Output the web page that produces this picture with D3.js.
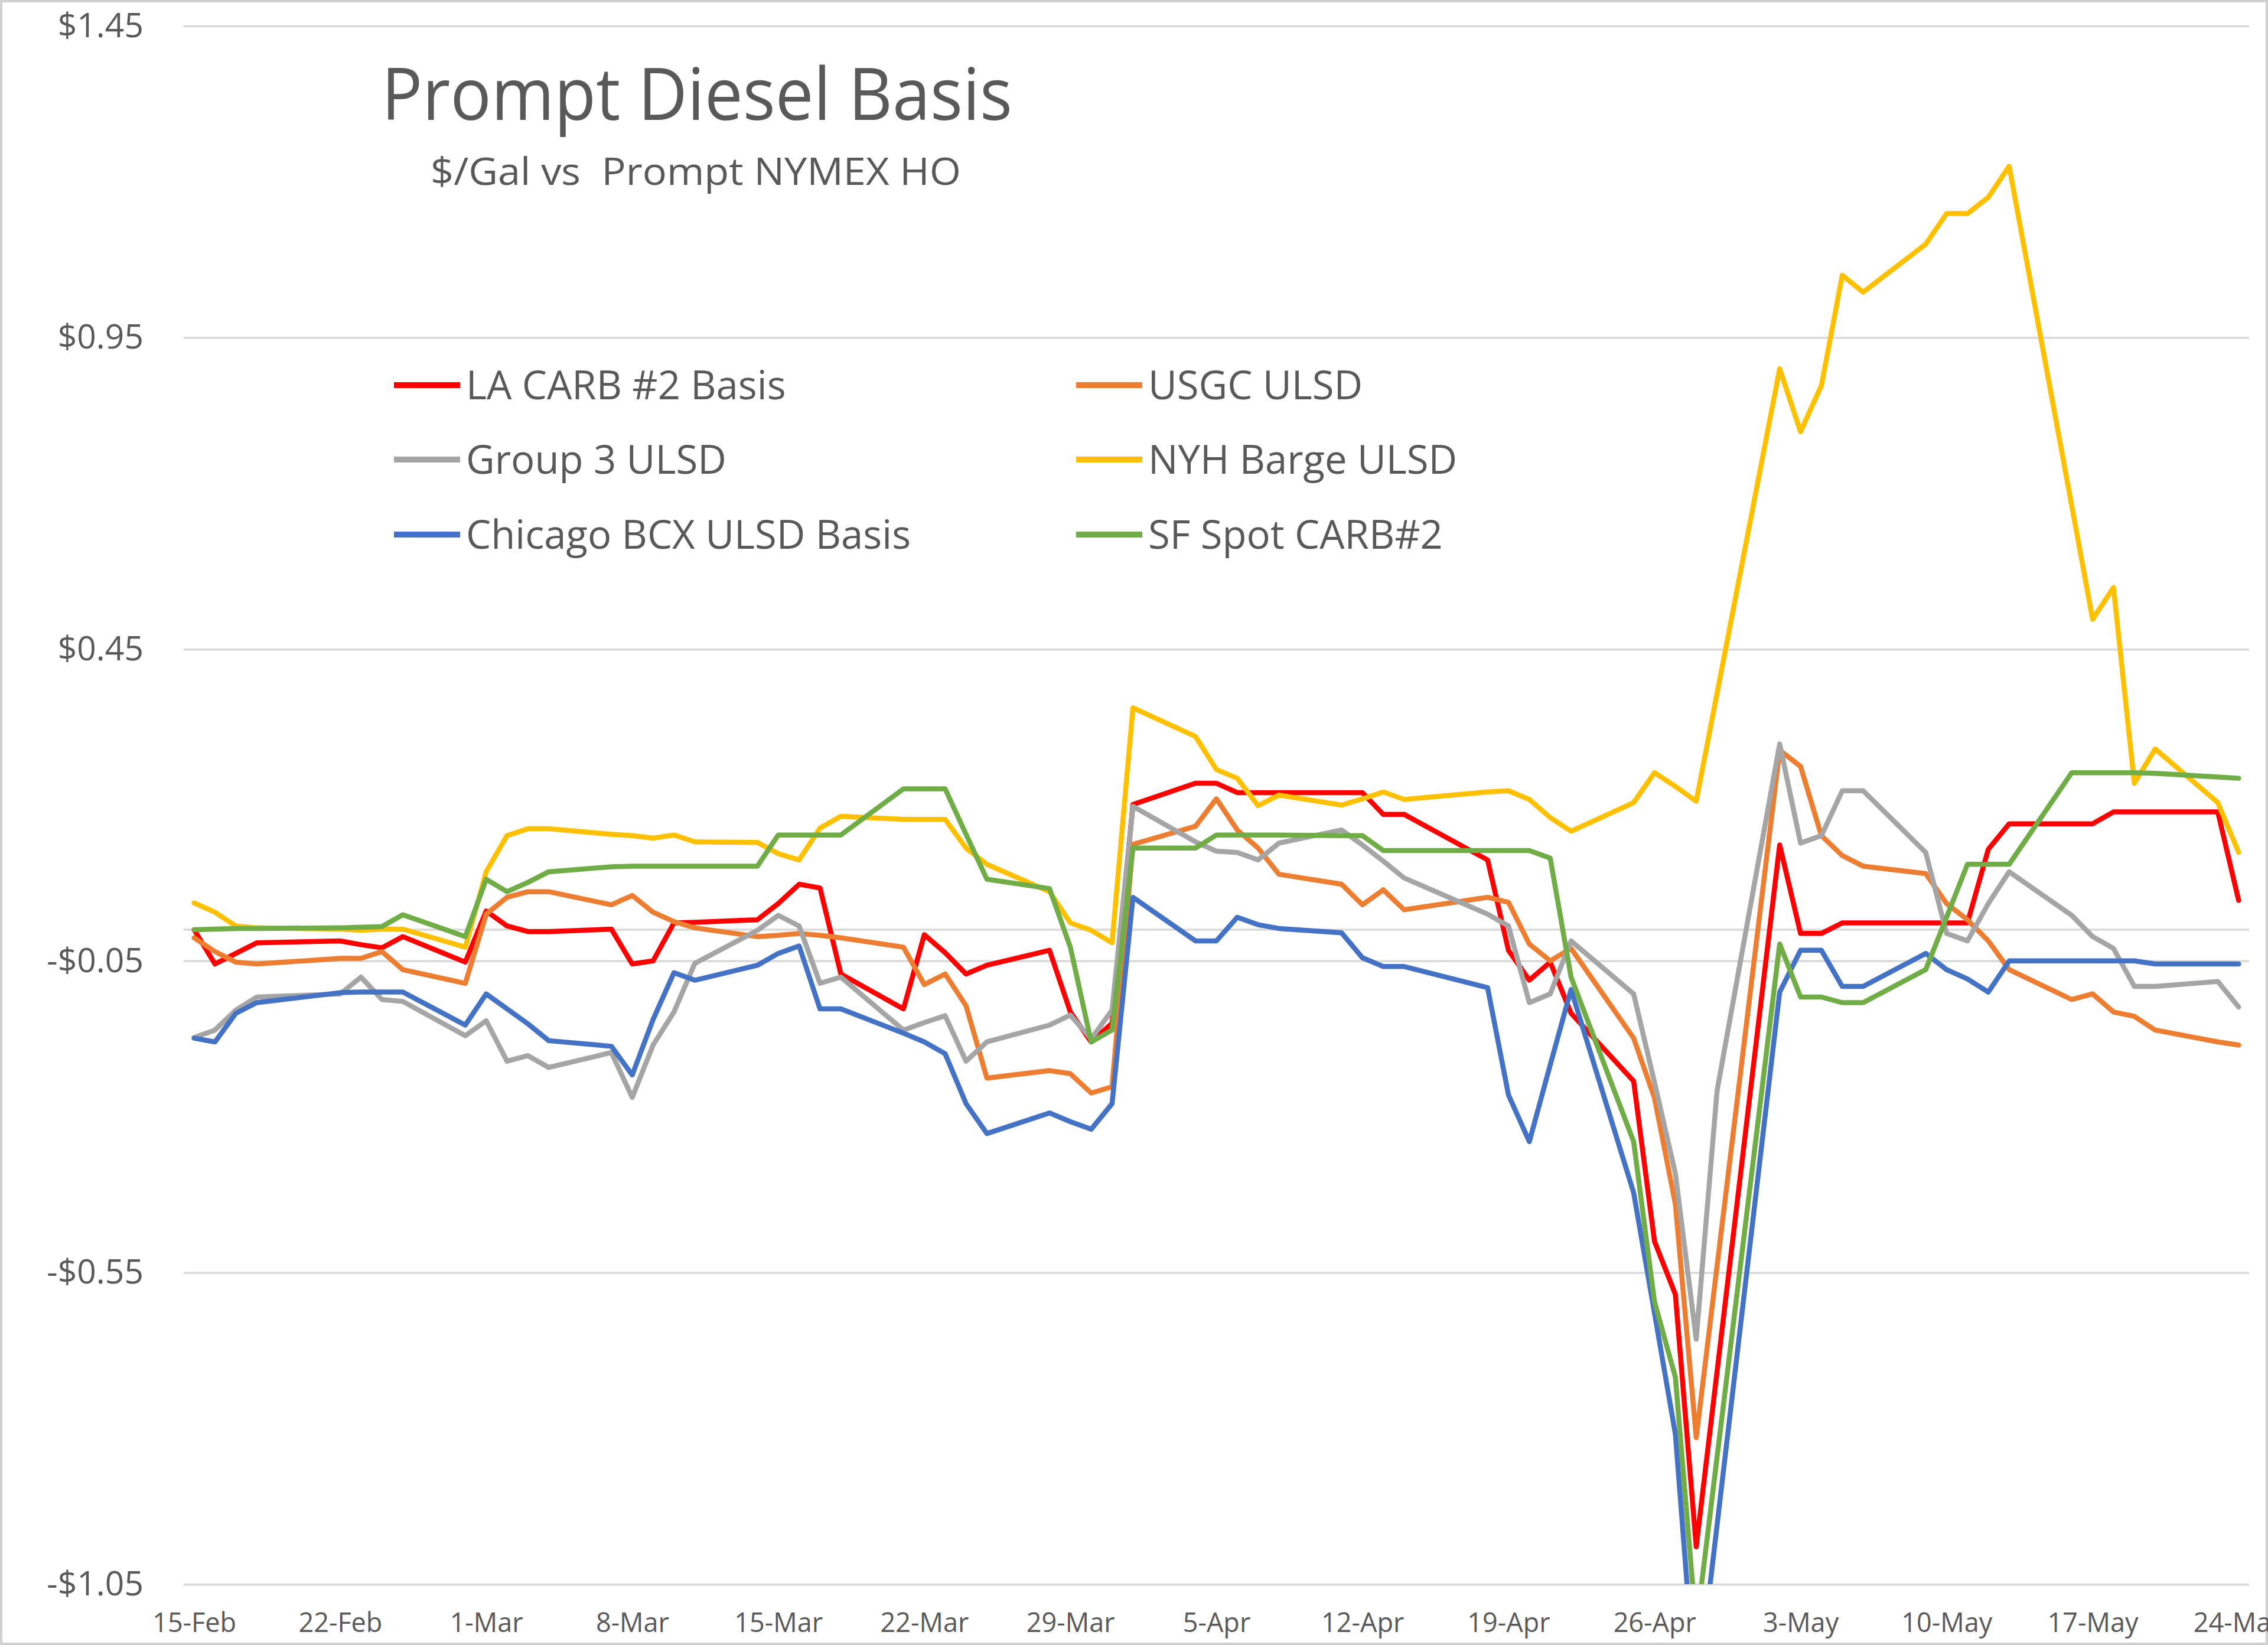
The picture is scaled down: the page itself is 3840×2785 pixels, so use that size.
<!DOCTYPE html>
<html>
<head>
<meta charset="utf-8">
<script src="https://cdn.jsdelivr.net/npm/d3@7"></script>
<style>
  html, body { margin: 0; padding: 0; background: #ffffff; }
  svg { display: block; }
</style>
</head>
<body>
<svg id="chart" width="3840" height="2785"></svg>
<script>
// ---------------- DATA ----------------
const dates = [
  "2022-02-15","2022-02-16","2022-02-17","2022-02-18","2022-02-21","2022-02-22","2022-02-23","2022-02-24","2022-02-25","2022-02-28",
  "2022-03-01","2022-03-02","2022-03-03","2022-03-04","2022-03-07","2022-03-08","2022-03-09","2022-03-10","2022-03-11","2022-03-14",
  "2022-03-15","2022-03-16","2022-03-17","2022-03-18","2022-03-21","2022-03-22","2022-03-23","2022-03-24","2022-03-25","2022-03-28",
  "2022-03-29","2022-03-30","2022-03-31",
  "2022-04-01","2022-04-04","2022-04-05","2022-04-06","2022-04-07","2022-04-08","2022-04-11","2022-04-12","2022-04-13","2022-04-14",
  "2022-04-15","2022-04-18","2022-04-19","2022-04-20","2022-04-21","2022-04-22","2022-04-25","2022-04-26","2022-04-27","2022-04-28",
  "2022-04-29",
  "2022-05-02","2022-05-03","2022-05-04","2022-05-05","2022-05-06","2022-05-09","2022-05-10","2022-05-11","2022-05-12","2022-05-13",
  "2022-05-16","2022-05-17","2022-05-18","2022-05-19","2022-05-20","2022-05-23","2022-05-24"
];

const laCarb = [
  0.000,-0.055,-0.038,-0.021,null,-0.018,-0.024,-0.029,-0.011,-0.052,
  0.030,0.006,-0.003,-0.003,0.001,-0.055,-0.050,0.011,0.012,0.016,0.042,0.073,0.067,-0.071,-0.127,-0.008,-0.037,-0.071,-0.057,-0.033,-0.132,-0.180,-0.150,
  0.201,0.235,0.235,0.220,0.220,0.220,0.220,0.220,0.185,0.185,null,0.112,-0.033,-0.081,-0.052,-0.134,-0.243,-0.500,-0.585,-0.990,null,
  0.136,-0.006,-0.006,0.011,0.011,0.011,0.011,0.011,0.129,0.170,0.170,0.170,0.189,0.189,0.189,0.189,0.047
];
const usgc = [
  -0.013,-0.035,-0.052,-0.055,null,-0.046,-0.046,-0.035,-0.064,-0.086,
  0.025,0.052,0.061,0.061,0.040,0.055,0.028,0.013,0.003,-0.011,-0.009,-0.006,-0.009,-0.013,-0.028,-0.088,-0.071,-0.122,-0.238,-0.226,-0.231,-0.262,-0.252,
  0.137,0.166,0.210,0.160,0.131,0.089,0.073,0.040,0.064,0.032,null,0.052,0.044,-0.023,-0.050,-0.030,-0.174,-0.270,-0.440,-0.815,null,
  0.288,0.262,0.151,0.119,0.102,0.090,0.042,0.016,-0.018,-0.064,-0.112,-0.103,-0.132,-0.139,-0.161,-0.180,-0.185
];
const group3 = [
  -0.173,-0.161,-0.129,-0.108,null,-0.103,-0.076,-0.112,-0.115,-0.170,
  -0.146,-0.211,-0.202,-0.221,-0.197,-0.269,-0.185,-0.132,-0.054,-0.001,0.023,0.006,-0.086,-0.076,-0.161,-0.149,-0.138,-0.211,-0.180,-0.153,-0.137,-0.175,-0.129,
  0.198,0.141,0.126,0.124,0.112,0.139,0.160,0.136,0.110,0.083,null,0.025,0.006,-0.117,-0.103,-0.018,-0.103,-0.245,-0.391,-0.657,-0.258,
  0.298,0.139,0.151,0.223,0.223,0.124,-0.006,-0.018,0.042,0.093,0.023,-0.011,-0.030,-0.091,-0.091,-0.083,-0.124
];
const nyhBarge = [
  0.043,0.028,0.006,0.003,null,0.001,-0.001,0.001,0.001,-0.028,
  0.093,0.151,0.162,0.162,0.153,0.151,0.147,0.152,0.141,0.140,0.122,0.112,0.163,0.182,0.177,0.177,0.177,0.131,0.105,0.061,0.011,-0.001,-0.021,
  0.356,0.310,0.257,0.243,0.199,0.216,0.200,0.210,0.221,0.209,null,0.221,0.223,0.209,0.180,0.158,0.204,0.252,0.230,0.206,null,
  0.900,0.799,0.873,1.050,1.023,1.100,1.149,1.149,1.175,1.225,0.680,0.498,0.549,0.235,0.290,0.204,0.124
];
const chicago = [
  -0.174,-0.180,-0.134,-0.117,null,-0.101,-0.100,-0.100,-0.100,-0.153,
  -0.103,-0.127,-0.151,-0.178,-0.187,-0.233,-0.144,-0.069,-0.081,-0.057,-0.038,-0.026,-0.127,-0.127,-0.166,-0.180,-0.199,-0.279,-0.327,-0.294,-0.308,-0.320,-0.279,
  0.052,-0.018,-0.018,0.020,0.008,0.002,-0.005,-0.045,-0.059,-0.059,null,-0.093,-0.265,-0.340,-0.217,-0.096,-0.422,-0.615,-0.809,-1.240,null,
  -0.100,-0.033,-0.033,-0.091,-0.091,-0.038,-0.064,-0.079,-0.100,-0.050,-0.050,-0.050,-0.050,-0.050,-0.055,-0.055,-0.055
];
const sfSpot = [
  0.000,0.001,0.002,0.002,null,0.003,0.004,0.005,0.024,-0.011,
  0.081,0.061,0.076,0.093,0.101,0.102,0.102,0.102,0.102,0.102,0.152,0.152,0.152,0.152,0.226,0.226,0.226,0.153,0.081,0.066,-0.028,-0.180,-0.161,
  0.131,0.131,0.152,0.152,0.152,0.152,0.151,0.151,0.127,0.127,null,0.127,0.127,0.127,0.115,-0.076,-0.340,-0.597,-0.718,-1.120,null,
  -0.023,-0.108,-0.108,-0.117,-0.117,-0.064,0.020,0.105,0.105,0.105,0.252,0.252,0.252,0.252,0.251,0.245,0.243
];

const seriesNames = ["LA CARB #2 Basis","USGC ULSD","Group 3 ULSD","NYH Barge ULSD","Chicago BCX ULSD Basis","SF Spot CARB#2"];
const seriesValues = [laCarb, usgc, group3, nyhBarge, chicago, sfSpot];
const seriesColors = ["#FF0000","#ED7D31","#A5A5A5","#FFC000","#4472C4","#70AD47"];

const yTickValues = [1.45, 0.95, 0.45, -0.05, -0.55, -1.05];
const xTickDates = ["2022-02-15","2022-02-22","2022-03-01","2022-03-08","2022-03-15","2022-03-22","2022-03-29",
                    "2022-04-05","2022-04-12","2022-04-19","2022-04-26","2022-05-03","2022-05-10","2022-05-17","2022-05-24"];

const titleText = "Prompt Diesel Basis";
const subtitleText = "$/Gal vs  Prompt NYMEX HO";

// ---------------- LAYOUT ----------------
const W = 3840, H = 2785;
const plot = { left: 311, right: 3808, top: 44, bottom: 2682 };
const textColor = "#595959";
const gridColor = "#D9D9D9";
const fontFamily = "'Open Sans', 'Noto Sans', sans-serif";

const parse = d3.timeParse("%Y-%m-%d");
const svg = d3.select("#chart");

svg.append("rect").attr("x", 0).attr("y", 0).attr("width", W).attr("height", H).attr("fill", "#ffffff");
svg.append("rect").attr("x", 2).attr("y", 2).attr("width", W - 4).attr("height", H - 4)
  .attr("fill", "none").attr("stroke", "#D0D0D0").attr("stroke-width", 4);

const xStart = d3.timeHour.offset(parse(dates[0]), -12);
const xEnd = d3.timeHour.offset(parse(dates[dates.length - 1]), 12);
const x = d3.scaleTime().domain([xStart, xEnd]).range([plot.left, plot.right]);
const y = d3.scaleLinear().domain([-1.05, 1.45]).range([plot.bottom, plot.top]);

const fmtMoney = v => (v < 0 ? "-" : "") + "$" + Math.abs(v).toFixed(2);

// Y axis with gridlines
const yAxis = d3.axisLeft(y)
  .tickValues(yTickValues)
  .tickSize(-(plot.right - plot.left))
  .tickPadding(68)
  .tickFormat(fmtMoney);
const gy = svg.append("g").attr("transform", `translate(${plot.left},0)`).call(yAxis);
gy.select(".domain").remove();
gy.selectAll(".tick line").attr("stroke", gridColor).attr("stroke-width", 3.5);
gy.selectAll(".tick text")
  .attr("fill", textColor)
  .style("font-family", fontFamily)
  .style("font-size", "57px");

// Zero (category axis) line
svg.append("line")
  .attr("x1", plot.left).attr("x2", plot.right)
  .attr("y1", y(0)).attr("y2", y(0))
  .attr("stroke", gridColor).attr("stroke-width", 3.5);

// X axis labels (at bottom)
const fmtDate = d3.timeFormat("%-d-%b");
const xAxis = d3.axisBottom(x)
  .tickValues(xTickDates.map(parse))
  .tickSize(0)
  .tickPadding(49)
  .tickFormat(fmtDate);
const gx = svg.append("g").attr("transform", `translate(0,${plot.bottom})`).call(xAxis);
gx.select(".domain").remove();
gx.selectAll(".tick text")
  .attr("fill", textColor)
  .style("font-family", fontFamily)
  .style("font-size", "45px");

// Clip for lines
svg.append("defs").append("clipPath").attr("id", "plotClip")
  .append("rect")
  .attr("x", plot.left).attr("y", plot.top)
  .attr("width", plot.right - plot.left).attr("height", plot.bottom - plot.top);

const line = d3.line()
  .x(p => x(p.date))
  .y(p => y(p.value));

const gLines = svg.append("g").attr("clip-path", "url(#plotClip)");
seriesValues.forEach((vals, i) => {
  const pts = dates.map((d, j) => ({ date: parse(d), value: vals[j] }))
    .filter(p => p.value !== null && p.value !== undefined);
  gLines.append("path")
    .datum(pts)
    .attr("d", line)
    .attr("fill", "none")
    .attr("stroke", seriesColors[i])
    .attr("stroke-width", 8.5)
    .attr("stroke-linejoin", "round")
    .attr("stroke-linecap", "round");
});

// Title
svg.append("text")
  .attr("x", 1180).attr("y", 203)
  .attr("text-anchor", "middle")
  .attr("fill", textColor)
  .attr("textLength", 1068)
  .attr("lengthAdjust", "spacingAndGlyphs")
  .style("font-family", fontFamily)
  .style("font-size", "122px")
  .text(titleText);

svg.append("text")
  .attr("x", 1178).attr("y", 313)
  .attr("text-anchor", "middle")
  .attr("fill", textColor)
  .attr("textLength", 898)
  .attr("lengthAdjust", "spacingAndGlyphs")
  .style("font-family", fontFamily)
  .style("font-size", "64px")
  .style("white-space", "pre")
  .text(subtitleText);

// Legend
const legendCols = [667, 1822];
const legendRows = [652, 778, 905];
const legend = svg.append("g");
seriesNames.forEach((name, i) => {
  const col = i % 2, row = Math.floor(i / 2);
  const lx = legendCols[col], ly = legendRows[row];
  legend.append("line")
    .attr("x1", lx).attr("x2", lx + 112)
    .attr("y1", ly).attr("y2", ly)
    .attr("stroke", seriesColors[i])
    .attr("stroke-width", 10);
  legend.append("text")
    .attr("x", lx + 122).attr("y", ly + 24)
    .attr("fill", textColor)
    .style("font-family", fontFamily)
    .style("font-size", "67px")
    .text(name);
});
</script>
</body>
</html>
